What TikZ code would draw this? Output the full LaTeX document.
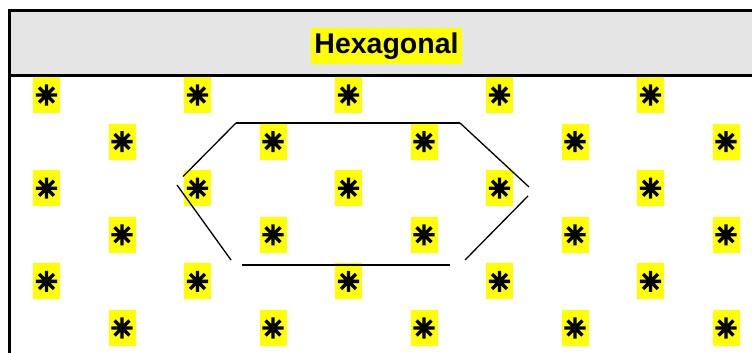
\documentclass[tikz,border=0pt]{standalone}
\usepackage{fontspec}
\setmainfont{Liberation Sans}
\newfontfamily\symfont[FakeBold=8]{DejaVu Sans}
\usetikzlibrary{positioning}
\definecolor{hdrgray}{HTML}{E5E5E5}
\definecolor{hilite}{HTML}{FFFF00}
\tikzset{
  starbox/.style={fill=hilite, minimum width=27pt, minimum height=36pt,
                  inner sep=0pt, font=\symfont\fontsize{26}{26}\selectfont},
  ttl/.style    ={fill=hilite, inner xsep=3pt, inner ysep=0pt,
                  minimum height=36pt, font=\bfseries\fontsize{28.5}{30}\selectfont},
  frm/.style    ={line width=3pt},
  sepline/.style={line width=2.5pt},
  hexedge/.style={line width=1.3pt},
  hextop/.style ={line width=2.2pt},
}
\begin{document}
\begin{tikzpicture}[x=1pt,y=-1pt]
  \useasboundingbox (0,0) rectangle (752,353);
  % header band
  \fill[hdrgray] (11,12) rectangle (760,74);
  \draw[frm] (9.5,360) -- (9.5,10.5) -- (760,10.5);
  \draw[sepline] (9.5,75.3) -- (760,75.3);
  \node[ttl] (title) at (386.5,46) {Hexagonal};
  % grid of points
  \foreach \r in {0,...,5} {
    \pgfmathsetmacro{\xoff}{mod(\r,2)*75.5}
    \foreach \c in {0,...,4}
      \node[starbox] (s-\r-\c) at ({46.5+\xoff+151*\c},{95+46.6*\r}) {✳};
  }
  % hexagon outline
  \draw[hextop]  (236,123) -- (460,123);
  \draw[hexedge] (236,123) -- (183,176.5);
  \draw[hexedge] (177,185) -- (231,260);
  \draw[hexedge] (242,265) -- (450,265);
  \draw[hexedge] (465,260) -- (528,196);
  \draw[hexedge] (460,123) -- (529,187);
\end{tikzpicture}
\end{document}
